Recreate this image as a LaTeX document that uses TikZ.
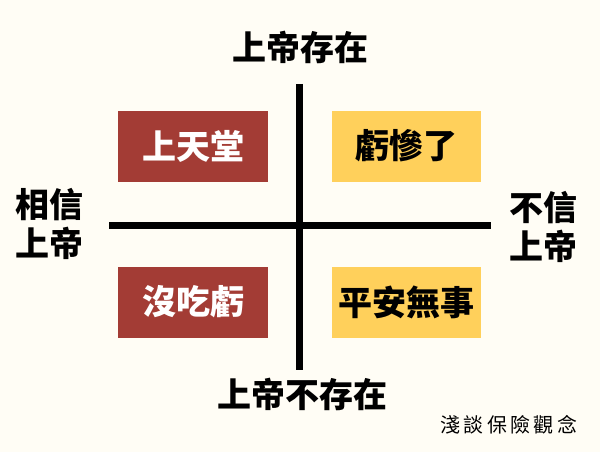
\documentclass[tikz,border=0pt]{standalone}
\usepackage{fontspec}
\setmainfont{Noto Sans CJK TC}[BoldFont={Noto Sans CJK TC Black}]
\definecolor{bg}{HTML}{FFFDF5}
\definecolor{boxred}{HTML}{A33C35}
\definecolor{boxyel}{HTML}{FFD05B}
\tikzset{
  axis/.style={line width=7pt, black},
  redbox/.style={fill=boxred, draw=none, minimum width=150pt, minimum height=71pt, text=white, font=\bfseries\fontsize{34}{36}\selectfont},
  yelbox/.style={fill=boxyel, draw=none, minimum width=149pt, minimum height=71pt, text=black, font=\bfseries\fontsize{34}{36}\selectfont},
  lbl/.style={font=\bfseries\fontsize{34}{39}\selectfont, align=center, inner sep=0pt},
  note/.style={font=\fontsize{20}{22}\selectfont, inner sep=0pt}
}
\begin{document}
\begin{tikzpicture}[x=1pt, y=-1pt]
\fill[bg] (0,0) rectangle (600,452);
\useasboundingbox (0,0) rectangle (600,452);
\coordinate (vt) at (299,84);
\coordinate (vb) at (299,370);
\coordinate (hl) at (109,225);
\coordinate (hr) at (491,225);
\draw[axis] (vt) -- (vb);
\draw[axis] (hl) -- (hr);
\node[redbox] (heaven) at (193,146) {上天堂};
\node[yelbox] (loss) at (406.5,146) {虧慘了};
\node[redbox] (noloss) at (193,302) {沒吃虧};
\node[yelbox] (safe) at (406.5,302) {平安無事};
\node[lbl] (top) at (300,47.5) {上帝存在};
\node[lbl] (bottom) at (302,394) {上帝不存在};
\node[lbl] (left) at (50,224) {相信\\上帝};
\node[lbl] (right) at (543,227) {不信\\上帝};
\node[note] (title) at (509,425) {淺\,談\,保\,險\,觀\,念};
\end{tikzpicture}
\end{document}
